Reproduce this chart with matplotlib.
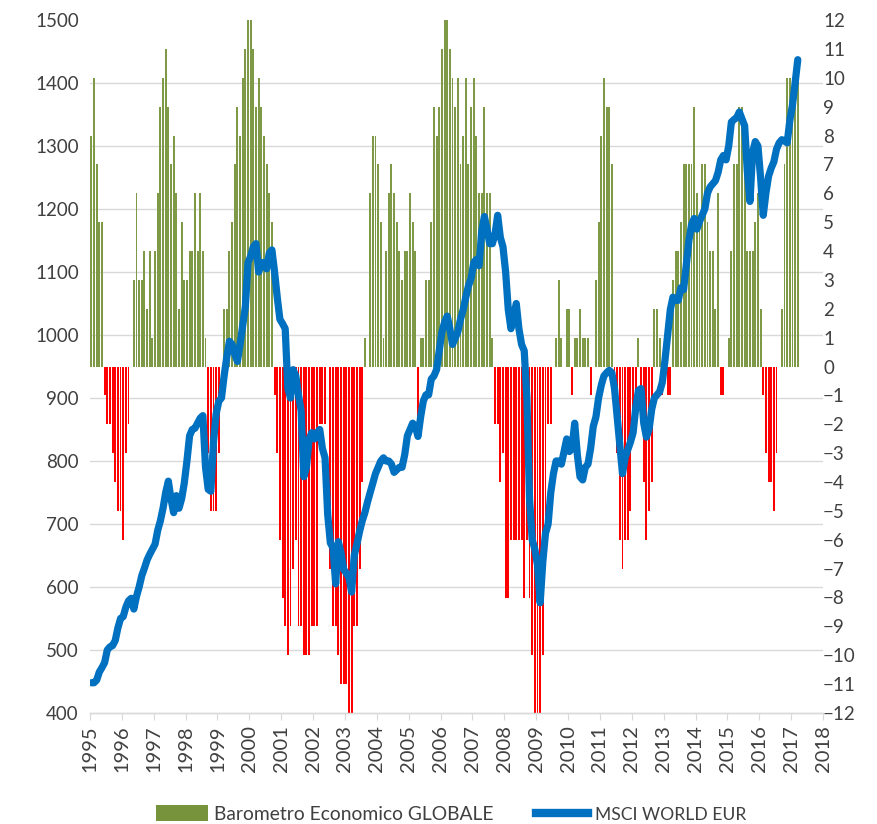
import matplotlib
matplotlib.use("Agg")
import matplotlib.pyplot as plt
from matplotlib.patches import Patch
from matplotlib.lines import Line2D
import numpy as np

plt.rcParams['font.family'] = ['Lato', 'DejaVu Sans']

# Monthly data, Jan 1995 .. Mar 2017
start_year = 1995
barometro = [
    # 1995
    8, 10, 7, 5, 5, -1, -2, -2, -3, -4, -5, -5,
    # 1996
    -6, -3, -2, 0, 3, 6, 3, 3, 4, 2, 4, 1,
    # 1997
    4, 6, 9, 10, 11, 9, 7, 8, 6, 2, 5, 3,
    # 1998
    3, 4, 4, 6, 4, 6, 4, 1, -3, -5, -5, -5,
    # 1999
    -3, 0, 2, 2, 4, 5, 7, 9, 8, 10, 11, 12,
    # 2000
    12, 11, 9, 10, 9, 8, 7, 6, 5, -1, -3, -6,
    # 2001
    -8, -9, -10, -9, -7, -6, -9, -9, -10, -10, -10, -9,
    # 2002
    -9, -9, -2, -2, -2, 0, -7, -9, -9, -10, -11, -11,
    # 2003
    -11, -12, -12, -9, -9, -7, -4, 1, 0, 6, 8, 8,
    # 2004
    7, 5, 1, 4, 6, 7, 6, 5, 4, 3, 4, 4,
    # 2005
    6, 5, 4, -2, 1, 1, 3, 3, 5, 9, 8, 9,
    # 2006
    11, 12, 12, 11, 10, 9, 10, 7, 8, 10, 7, 9,
    # 2007
    10, 8, 6, 6, 9, 6, 6, 1, -2, -2, -4, -3,
    # 2008
    -8, -8, -6, -6, -6, -6, -6, -8, -6, -8, -10, -12,
    # 2009
    -12, -12, -10, -6, -2, -2, 0, 1, 3, 1, 0, 2,
    # 2010
    2, -1, 1, 1, 2, 1, 1, 1, -1, 0, 3, 5,
    # 2011
    8, 10, 9, 9, 7, -1, -3, -6, -7, -6, -6, -5,
    # 2012
    -2, -2, 1, -1, -4, -6, -5, -4, 2, 2, 1, -1,
    # 2013
    1, -1, -1, 3, 4, 4, 5, 7, 7, 7, 7, 9,
    # 2014
    6, 5, 7, 7, 5, 4, 4, 2, 6, -1, -1, 0,
    # 2015
    1, 4, 7, 7, 9, 9, 7, 4, 4, 4, 5, 6,
    # 2016
    2, -1, -3, -4, -4, -5, -3, 0, 2, 7, 10, 10,
    # 2017
    10, 10, 10,
]

msci = [
    # 1995
    448, 448, 452, 465, 472, 480, 500, 505, 507, 515, 535, 550,
    # 1996
    553, 568, 578, 582, 565, 585, 600, 618, 630, 643, 652, 660,
    # 1997
    668, 690, 705, 725, 750, 768, 740, 718, 745, 725, 740, 765,
    # 1998
    800, 840, 850, 852, 860, 868, 872, 790, 755, 752, 830, 875,
    # 1999
    895, 900, 935, 965, 990, 985, 970, 958, 985, 1015, 1045, 1115,
    # 2000
    1125, 1140, 1145, 1100, 1115, 1115, 1105, 1130, 1135, 1100, 1060, 1025,
    # 2001
    1018, 1010, 915, 900, 945, 935, 905, 880, 775, 790, 835, 845,
    # 2002
    835, 845, 850, 820, 805, 715, 670, 662, 605, 672, 655, 628,
    # 2003
    622, 615, 592, 650, 668, 688, 705, 718, 735, 750, 765, 780,
    # 2004
    790, 800, 805, 800, 800, 795, 782, 786, 790, 790, 810, 840,
    # 2005
    850, 860, 855, 839, 870, 895, 905, 905, 930, 935, 945, 975,
    # 2006
    1005, 1020, 1030, 1010, 985, 995, 1005, 1025, 1040, 1060, 1078, 1090,
    # 2007
    1115, 1120, 1110, 1165, 1188, 1168, 1145, 1145, 1160, 1190, 1155, 1140,
    # 2008
    1100, 1040, 1010, 1030, 1050, 1010, 985, 975, 900, 740, 675, 660,
    # 2009
    635, 575, 640, 685, 700, 750, 780, 800, 800, 795, 815, 835,
    # 2010
    815, 820, 860, 810, 775, 770, 790, 795, 820, 855, 870, 900,
    # 2011
    920, 935, 940, 944, 940, 915, 870, 825, 780, 805, 818, 830,
    # 2012
    845, 885, 912, 915, 860, 838, 850, 882, 900, 905, 910, 925,
    # 2013
    960, 1000, 1040, 1060, 1055, 1055, 1075, 1072, 1110, 1150, 1175, 1185,
    # 2014
    1168, 1180, 1190, 1200, 1225, 1235, 1240, 1245, 1258, 1278, 1285, 1278,
    # 2015
    1300, 1338, 1342, 1345, 1354, 1343, 1332, 1260, 1212, 1290, 1307, 1300,
    # 2016
    1250, 1190, 1225, 1252, 1265, 1275, 1295, 1305, 1310, 1308, 1305, 1340,
    # 2017
    1365, 1400, 1437,
]

year_ticks = list(range(1995, 2019))
left_ticks = list(range(400, 1501, 100))
right_ticks = list(range(-12, 13))

label_bar = "Barometro Economico GLOBALE"
label_line = "MSCI WORLD EUR"

GREEN = '#7E9A47'
RED = '#FF0000'
BLUE = '#0070C0'
GRID = '#D9D9D9'
TEXT = '#404040'

n = len(barometro)
x_bar = np.array([start_year + (i + 0.5) / 12 for i in range(n)])
x_line = np.array([start_year + (i + 0.5) / 12 for i in range(len(msci))])
bvals = np.array(barometro, dtype=float)

fig = plt.figure(figsize=(8.77, 8.24), dpi=100)
ax = fig.add_axes([90/877, 1-713/824, (823-90)/877, (713-20)/824])
ax2 = ax.twinx()

# bars on ax2 (behind), line on ax (front)
ax.set_zorder(ax2.get_zorder() + 1)
ax.patch.set_visible(False)
ax2.patch.set_facecolor('white')

colors = [GREEN if v >= 0 else RED for v in bvals]
ax2.bar(x_bar, bvals, width=0.72/12, color=colors, linewidth=0, zorder=3)

ax.plot(x_line, msci, color=BLUE, lw=5.2, solid_joinstyle='round',
        solid_capstyle='round', zorder=4)

ax.set_xlim(1995, 2018)
ax.set_ylim(400, 1500)
ax2.set_ylim(-12, 12)

ax.set_xticks(year_ticks)
ax.set_xticklabels([str(y) for y in year_ticks], rotation=90)
ax.set_yticks(left_ticks)
ax2.set_yticks(right_ticks)

# grid drawn on the back axes so it stays behind the bars
conv = lambda v: (v - 950) * 24 / 1100
ax2.set_yticks([conv(v) for v in left_ticks], minor=True)
ax2.grid(which='minor', axis='y', color=GRID, lw=1.0, zorder=0)
ax2.grid(which='major', axis='x', color=GRID, lw=1.0, zorder=0)
ax2.tick_params(axis='y', which='minor', length=0)
ax2.set_axisbelow(True)

for a in (ax, ax2):
    for s in ('top', 'left', 'right'):
        a.spines[s].set_visible(False)
    a.spines['bottom'].set_color(GRID)
    a.spines['bottom'].set_linewidth(1.0)

ax.tick_params(axis='y', length=0, labelsize=13.5, labelcolor=TEXT, pad=8)
ax2.tick_params(axis='y', which='major', length=0, labelsize=13.5, labelcolor=TEXT, pad=0)
ax.tick_params(axis='x', length=5, color=GRID, labelsize=14.5, labelcolor=TEXT, pad=4)
ax2.tick_params(axis='x', length=0)

handles = [Patch(facecolor='#77933C', edgecolor='none'),
           Line2D([0], [0], color=BLUE, lw=6)]
leg = fig.legend(handles, [label_bar, label_line], loc='center',
                 bbox_to_anchor=(451/877, 10/824), ncol=2, frameon=False,
                 fontsize=13.9, handlelength=2.7, handleheight=0.85,
                 columnspacing=2.2, handletextpad=0.32,
                 labelcolor=TEXT)
leg.get_texts()[1].set_fontsize(12.6)

fig.savefig('out.png', dpi=100)
